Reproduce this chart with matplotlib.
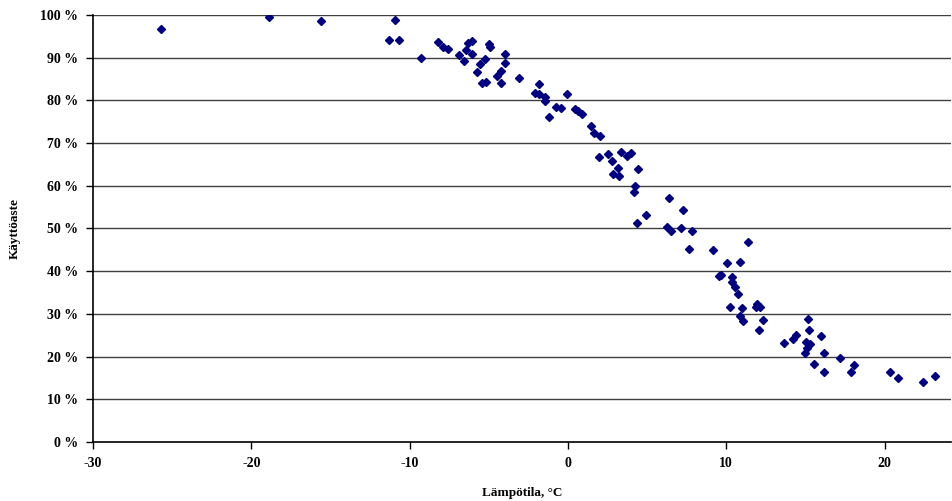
"""Käyttöaste vs. lämpötila scatter."""
import matplotlib
matplotlib.use("Agg")
import matplotlib.pyplot as plt

# temperature (°C) and utilisation (%)
temp = [-25.7, -18.9, -15.6, -10.9, -11.3, -10.7, -9.3, -8.2, -7.9, -7.6,
        -6.9, -6.55, -6.46, -6.34, -6.04, -6.04, -5.77, -5.56, -5.24, -5.41,
        -5.18, -4.97, -4.93, -4.47, -4.25, -4.25, -3.96, -3.96, -3.1, -1.85,
        -2.08, -1.85, -1.47, -1.45, -1.22, -0.76, -0.44, -0.04, 0.44, 0.65,
        0.87, 1.43, 1.64, 2.04, 1.96, 2.55, 2.76, 3.35, 3.75, 3.98,
        3.14, 2.86, 3.24, 4.44, 4.25, 4.15, 4.34, 4.95, 6.36, 7.26,
        6.23, 6.49, 7.14, 7.85, 7.66, 9.14, 9.54, 11.35, 10.04, 10.87,
        9.64, 10.36, 10.36, 10.55, 10.74, 10.25, 10.97, 11.96, 11.88, 12.13,
        10.87, 11.06, 12.34, 12.07, 13.67, 14.24, 14.39, 15.14, 15.25, 15.03,
        15.29, 15.12, 14.95, 15.98, 16.15, 15.56, 16.15, 17.16, 18.05, 17.86,
        20.34, 20.85, 22.45, 23.16]
usage = [96.7, 99.5, 98.5, 98.8, 94.1, 94.2, 90.0, 93.6, 92.6, 92.0,
         90.6, 89.2, 91.7, 93.4, 93.8, 90.9, 86.6, 88.5, 89.6, 84.1,
         84.4, 93.2, 92.4, 85.6, 87.0, 84.1, 90.9, 88.8, 85.2, 83.8,
         81.7, 81.5, 80.9, 79.9, 76.0, 78.5, 78.2, 81.4, 77.9, 77.5,
         76.9, 74.0, 72.4, 71.7, 66.7, 67.4, 65.9, 67.9, 67.0, 67.6,
         64.2, 62.7, 62.2, 64.0, 60.0, 58.6, 51.3, 53.2, 57.2, 54.3,
         50.4, 49.3, 50.2, 49.3, 45.2, 45.0, 38.9, 46.8, 41.8, 42.1,
         39.0, 38.6, 37.5, 36.4, 34.7, 31.7, 31.4, 32.3, 31.5, 31.5,
         29.4, 28.4, 28.6, 26.2, 23.1, 24.0, 25.0, 28.8, 26.1, 23.3,
         22.9, 22.1, 20.9, 24.7, 20.8, 18.3, 16.3, 19.7, 17.9, 16.3,
         16.3, 14.9, 14.1, 15.5]

x_ticks = [-30, -20, -10, 0, 10, 20]
y_ticks = [0, 10, 20, 30, 40, 50, 60, 70, 80, 90, 100]

plt.rcParams["font.family"] = ["Liberation Serif", "DejaVu Serif"]
plt.rcParams["font.weight"] = "bold"

fig = plt.figure(figsize=(9.53, 5.01), dpi=100)
ax = fig.add_axes([0.0976, 0.118, 0.9004, 0.852])

for yv in y_ticks[1:]:
    ax.axhline(yv, color="#404040", lw=1.0, zorder=1)

ax.plot(temp, usage, linestyle="none", marker="D", markersize=4.0,
        color="#000080", zorder=3)

ax.set_xlim(-30, 24.2)
ax.set_ylim(0, 100)
ax.set_xticks(x_ticks)
ax.set_xticklabels([str(t) for t in x_ticks], fontsize=10, fontweight="bold")
ax.set_yticks(y_ticks)
ax.set_yticklabels([f"{t} %" for t in y_ticks], fontsize=10, fontweight="bold")
ax.tick_params(direction="out", length=5, width=1, colors="black", pad=6)

for side in ["top", "right"]:
    ax.spines[side].set_visible(False)
for side in ["left", "bottom"]:
    ax.spines[side].set_linewidth(1.2)
    ax.spines[side].set_color("black")

ax.set_xlabel("Lämpötila, °C", fontsize=9.5, fontweight="bold", labelpad=12)
ax.set_ylabel("Käyttöaste", fontsize=9.5, fontweight="bold", labelpad=14)

fig.savefig("out.png", dpi=100)
